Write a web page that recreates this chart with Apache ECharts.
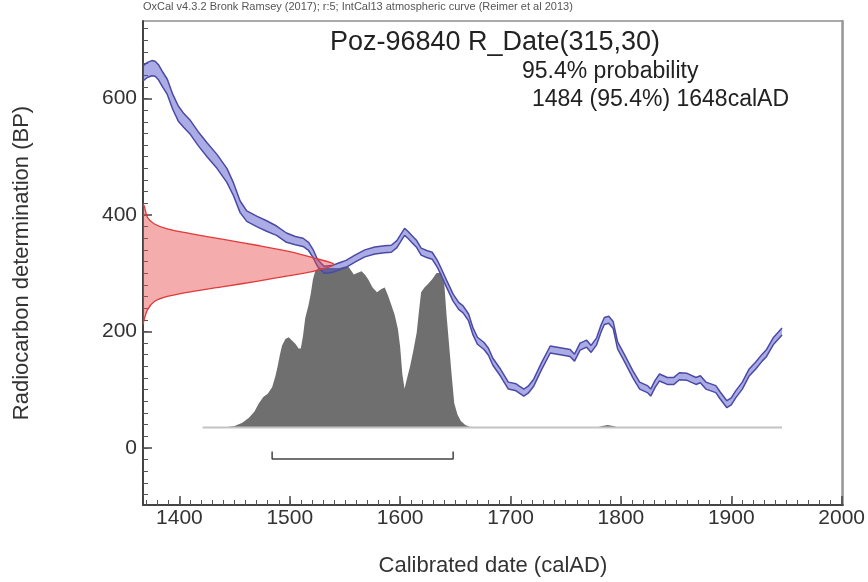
<!DOCTYPE html>
<html><head><meta charset="utf-8">
<script src="https://cdn.jsdelivr.net/npm/echarts@6/dist/echarts.min.js"></script>
<style>html,body{margin:0;padding:0;background:#fff}#c{width:868px;height:582px}</style>
</head><body><div id="c"></div>
<script>
// ---- calibration curve (IntCal13), centre and 1-sigma half width
const calYears = [1367,1371,1375,1378,1381,1385,1389,1394,1399,1404,1410,1417,1425,1434,1443,1449,1455,1461,1470,1479,1488,1497,1505,1512,1517,1521,1525,1531,1538,1545,1551,1559,1568,1577,1586,1592,1597,1601,1604,1607,1611,1615,1619,1624,1629,1634,1637,1642,1648,1653,1657,1662,1666,1670,1676,1680,1684,1691,1698,1705,1708,1712,1716,1721,1728,1736,1745,1754,1758,1763,1769,1773,1778,1782,1785,1789,1793,1797,1803,1811,1817,1824,1827,1831,1835,1842,1848,1853,1860,1868,1872,1877,1886,1890,1896,1900,1904,1910,1916,1922,1928,1932,1938,1946];
const calBP =    [643,649,652,651,645,632,620,594,574,562,550,531,512,492,468,444,414,398,389,381,373,361,356,353,346,334,318,306,307,312,316,325,334,339,341,342,350,362,371,366,358,350,337,333,330,315,303,282,258,244,238,224,200,184,175,165,148,129,107,104,100,95,100,112,140,169,166,163,155,174,179,170,183,205,218,220,211,176,155,126,107,101,95,110,121,115,115,123,122,115,118,107,101,90,75,80,92,107,129,141,155,163,183,200];
const calErr =   [13,13,13,13,13,13,13,13,13,12,12,12,12,12,12,11,10,9,9,9,8,8,7,7,7,7,6,6,6,6,6,6,6,6,6,6,6,6,6,6,6,6,6,6,6,6,6,6,6,6,6,6,6,6,6,6,6,6,6,6,6,6,6,6,6,6,6,6,6,6,6,6,6,6,6,6,6,6,6,6,6,6,6,6,6,6,6,6,6,6,6,6,6,6,6,6,6,6,6,6,6,6,6,6];

// ---- calibrated probability distribution (relative)
const probYears  = [1421,1440,1450,1457,1463,1468,1472,1476,1480,1484,1487,1489,1491,1493,1496,1499,1502,1505,1508,1510,1512,1514,1517,1519,1521,1523,1526,1530,1535,1540,1545,1550,1553,1556,1558,1561,1565,1568,1571,1575,1579,1583,1586,1589,1592,1595,1598,1600,1602,1604,1606,1609,1612,1615,1617,1619,1622,1625,1629,1633,1637,1640,1642,1645,1647,1649,1652,1655,1659,1663,1667,1778,1783,1788,1793,1798,1946];
const probValues = [0,0,0.01,0.03,0.06,0.1,0.15,0.19,0.21,0.25,0.32,0.38,0.45,0.51,0.55,0.56,0.54,0.52,0.49,0.49,0.57,0.68,0.76,0.83,0.92,0.97,0.99,0.99,0.99,0.99,0.99,1.0,1.0,0.97,0.95,0.96,0.97,0.95,0.92,0.87,0.84,0.86,0.87,0.82,0.76,0.7,0.61,0.5,0.33,0.24,0.3,0.38,0.48,0.59,0.72,0.84,0.87,0.89,0.92,0.96,0.96,0.89,0.7,0.46,0.3,0.15,0.08,0.04,0.015,0.005,0,0,0.01,0.015,0.01,0,0];

// ---- radiocarbon date R_Date(315,30) shape on the y axis (edge year per BP)
const dateBP   = [418,416,396,385,376,368,358,348,337,327,315,304,296,286,277,268,260,251,237,220,212];
const dateYear = [1367,1368,1371,1377,1389,1410,1440,1470,1500,1520,1540,1523,1500,1470,1440,1410,1389,1377,1371,1368,1367];

// ---- 95.4% range
const rangeFrom = 1484, rangeTo = 1648;

// ---- ticks
const xTickLabels = [1400,1500,1600,1700,1800,1900,2000];
const xMinorTicks = [1370,1380,1390,1400,1410,1420,1430,1440,1450,1460,1470,1480,1490,1500,1510,1520,1530,1540,1550,1560,1570,1580,1590,1600,1610,1620,1630,1640,1650,1660,1670,1680,1690,1700,1710,1720,1730,1740,1750,1760,1770,1780,1790,1800,1810,1820,1830,1840,1850,1860,1870,1880,1890,1900,1910,1920,1930,1940,1950,1960,1970,1980,1990,2000];
const yTickLabels = [0,200,400,600];
const yMinorTicks = [-80,-60,-40,-20,0,20,40,60,80,100,120,140,160,180,200,220,240,260,280,300,320,340,360,380,400,420,440,460,480,500,520,540,560,580,600,620,640,660,680,700,720];

const FONT = 'Liberation Sans, Arial, sans-serif';
const chart = echarts.init(document.getElementById('c'));

const upper = calYears.map((y,i)=>[y, calBP[i]+calErr[i]]);
const lower = calYears.map((y,i)=>[y, calBP[i]-calErr[i]]);

const XMIN = 1367, XMAX = 2001, YMIN = -98, YMAX = 733;
const plain = v => String(Math.round(v));

chart.setOption({
  animation: false,
  backgroundColor: '#fff',
  grid: {left: 143, right: 22, top: 21, bottom: 74, show: true, borderColor: '#555', borderWidth: 1},
  xAxis: [
    {type: 'value', min: XMIN, max: XMAX, position: 'bottom',
     axisLine: {show: true, onZero: false, lineStyle: {color: '#444', width: 2}},
     axisTick: {show: true, inside: true, length: 9, customValues: xTickLabels, lineStyle: {color: '#444', width: 1.5}},
     axisLabel: {customValues: xTickLabels, formatter: plain, fontSize: 21, color: '#333', margin: 3, fontFamily: FONT},
     splitLine: {show: false},
     name: 'Calibrated date (calAD)', nameLocation: 'middle', nameGap: 50,
     nameTextStyle: {fontSize: 22, color: '#333', fontFamily: FONT}},
    {type: 'value', min: XMIN, max: XMAX, position: 'bottom',
     axisLine: {show: false, onZero: false},
     axisTick: {show: true, inside: true, length: 5, customValues: xMinorTicks, lineStyle: {color: '#555', width: 1}},
     axisLabel: {show: false}, splitLine: {show: false}}
  ],
  yAxis: [
    {type: 'value', min: YMIN, max: YMAX, position: 'left',
     axisLine: {show: true, onZero: false, lineStyle: {color: '#444', width: 2}},
     axisTick: {show: true, inside: true, length: 9, customValues: yTickLabels, lineStyle: {color: '#444', width: 1.5}},
     axisLabel: {customValues: yTickLabels, formatter: plain, fontSize: 21, color: '#333', margin: 6, fontFamily: FONT},
     splitLine: {show: false},
     name: 'Radiocarbon determination (BP)', nameLocation: 'middle', nameGap: 110,
     nameTextStyle: {fontSize: 22, color: '#333', fontFamily: FONT}},
    {type: 'value', min: YMIN, max: YMAX, position: 'left',
     axisLine: {show: false, onZero: false},
     axisTick: {show: true, inside: true, length: 5, customValues: yMinorTicks, lineStyle: {color: '#555', width: 1}},
     axisLabel: {show: false}, splitLine: {show: false}},
    {type: 'value', min: -0.481, max: 2.524, show: false},
    {type: 'value', min: YMIN, max: YMAX, position: 'right',
     axisLine: {show: true, onZero: false, lineStyle: {color: '#999', width: 2.5}},
     axisTick: {show: false}, axisLabel: {show: false}, splitLine: {show: false}}
  ],
  graphic: [
    {type: 'text', x: 143, y: 1, style: {text: 'OxCal v4.3.2 Bronk Ramsey (2017); r:5; IntCal13 atmospheric curve (Reimer et al 2013)', font: '11px ' + FONT, fill: '#555'}},
    {type: 'text', x: 495, y: 43, style: {text: 'Poz-96840 R_Date(315,30)', font: '27px ' + FONT, fill: '#222', align: 'center', verticalAlign: 'middle'}},
    {type: 'text', x: 522, y: 72, style: {text: '95.4% probability', font: '23px ' + FONT, fill: '#222', align: 'left', verticalAlign: 'middle'}},
    {type: 'text', x: 532, y: 100, style: {text: '1484 (95.4%) 1648calAD', font: '23px ' + FONT, fill: '#222', align: 'left', verticalAlign: 'middle'}}
  ],
  series: [
    {type: 'line', name: 'prob', xAxisIndex: 0, yAxisIndex: 2, data: probYears.map((y,i)=>[y, probValues[i]]),
     showSymbol: false, symbol: 'none', lineStyle: {width: 0}, areaStyle: {color: '#6f6f6f', opacity: 1}, z: 2},
    {type: 'line', name: 'baseline', xAxisIndex: 0, yAxisIndex: 2, data: [[probYears[0], 0], [probYears[probYears.length-1], 0]],
     showSymbol: false, symbol: 'none', lineStyle: {color: '#c4c4c4', width: 2}, z: 3},
    {type: 'custom', name: 'band', xAxisIndex: 0, yAxisIndex: 0, data: [[calYears[0], calBP[0]]], z: 4,
     renderItem: function (params, api) {
       if (params.dataIndex !== 0) return;
       const pts = upper.map(p=>api.coord(p)).concat(lower.slice().reverse().map(p=>api.coord(p)));
       return {type: 'polygon', shape: {points: pts, smooth: 0}, style: {fill: 'rgba(80,80,200,0.48)'}};
     }},
    {type: 'line', name: 'upper', xAxisIndex: 0, yAxisIndex: 0, data: upper, showSymbol: false, symbol: 'none',
     lineStyle: {color: '#4a4aa6', width: 1.5}, z: 5},
    {type: 'line', name: 'lower', xAxisIndex: 0, yAxisIndex: 0, data: lower, showSymbol: false, symbol: 'none',
     lineStyle: {color: '#4a4aa6', width: 1.5}, z: 5},
    {type: 'custom', name: 'date', xAxisIndex: 0, yAxisIndex: 0, data: [[dateYear[0], dateBP[0]]], z: 6,
     renderItem: function (params, api) {
       if (params.dataIndex !== 0) return;
       const pts = dateYear.map((y,i)=>api.coord([y, dateBP[i]]));
       return {type: 'group', children: [
         {type: 'polygon', shape: {points: pts, smooth: 0}, style: {fill: 'rgba(232,70,70,0.45)'}},
         {type: 'polyline', shape: {points: pts, smooth: 0.3}, style: {stroke: '#e23a3a', lineWidth: 1.3, fill: null}}
       ]};
     }},
    {type: 'line', name: 'range', xAxisIndex: 0, yAxisIndex: 0,
     data: [[rangeFrom, -6], [rangeFrom, -19], [rangeTo, -19], [rangeTo, -6]],
     showSymbol: false, symbol: 'none', lineStyle: {color: '#444', width: 1.5}, z: 5}
  ]
});
</script></body></html>
